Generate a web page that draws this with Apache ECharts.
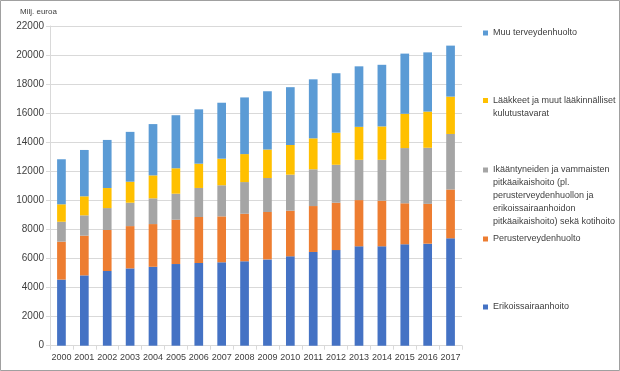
<!DOCTYPE html>
<html>
<head>
<meta charset="utf-8">
<script src="https://cdn.jsdelivr.net/npm/echarts@6/dist/echarts.min.js"></script>
<style>
html,body{margin:0;padding:0;background:#fff;}
#chart{width:620px;height:371px;}
</style>
</head>
<body>
<div id="chart"></div>
<script>
var years = ['2000','2001','2002','2003','2004','2005','2006','2007','2008','2009','2010','2011','2012','2013','2014','2015','2016','2017'];
var erikoissairaanhoito = [4550,4840,5140,5320,5430,5620,5690,5740,5810,5940,6150,6450,6580,6840,6840,6980,7020,7390];
var perusterveydenhuolto = [2610,2730,2820,2910,2940,3050,3165,3160,3270,3260,3140,3160,3260,3180,3140,2820,2740,3360];
var pitkaaikaishoito = [1370,1400,1510,1610,1770,1790,2000,2140,2180,2340,2480,2530,2610,2770,2810,3800,3860,3820];
var laakkeet = [1200,1310,1380,1445,1580,1750,1670,1830,1925,1960,2040,2130,2210,2270,2300,2360,2490,2570];
var muu = [3100,3190,3310,3430,3530,3650,3740,3850,3900,4010,3980,4060,4090,4165,4240,4140,4075,3510];
var yTicks = {min:0, max:22000, interval:2000};

var names = [
  'Erikoissairaanhoito',
  'Perusterveydenhuolto',
  'Ikääntyneiden ja vammaisten\npitkäaikaishoito (pl.\nperusterveydenhuollon ja\nerikoissairaanhoidon\npitkäaikaishoito) sekä kotihoito',
  'Lääkkeet ja muut lääkinnälliset\nkulutustavarat',
  'Muu terveydenhuolto'
];
var colors = ['#4472C4','#ED7D31','#A5A5A5','#FFC000','#5B9BD5'];
var dataSets = [erikoissairaanhoito, perusterveydenhuolto, pitkaaikaishoito, laakkeet, muu];

var FONT = "'Liberation Sans', Arial, sans-serif";
var LH = 13;
var legendTops = [300.5, 232.5, 111.5, 81, 26.5];

var chart = echarts.init(document.getElementById('chart'), null, {renderer:'canvas'});
var legends = names.map(function(n, i){
  var nLines = n.split('\n').length;
  var pre = new Array(nLines).join('\n');
  return {
    data:[n],
    left:483,
    top:legendTops[i],
    orient:'vertical',
    padding:0,
    itemWidth:5,
    itemHeight:5,
    icon:'rect',
    selectedMode:false,
    formatter:function(name){ return pre + name; },
    textStyle:{fontFamily:FONT, fontSize:9, color:'#404040', lineHeight:LH}
  };
});

var option = {
  animation:false,
  backgroundColor:'#ffffff',
  color:colors,
  textStyle:{fontFamily:FONT},
  graphic:[
    {type:'rect', shape:{x:0.5,y:0.5,width:619,height:370}, style:{fill:'none', stroke:'#a0a0a0', lineWidth:1}, silent:true},
    {type:'text', left:20, top:8, style:{text:'Milj. euroa', fontFamily:FONT, fontSize:8, fill:'#404040'}}
  ],
  legend:legends,
  grid:{left:50, right:158, top:26, bottom:25.3, containLabel:false},
  xAxis:{
    type:'category',
    data:years,
    axisLine:{lineStyle:{color:'#d9d9d9'}},
    axisTick:{show:true, length:4, alignWithLabel:false, lineStyle:{color:'#d9d9d9'}},
    axisLabel:{color:'#404040', fontSize:9, fontFamily:FONT, margin:7, interval:0}
  },
  yAxis:{
    type:'value',
    min:yTicks.min, max:yTicks.max, interval:yTicks.interval,
    axisLine:{show:true, lineStyle:{color:'#d9d9d9'}},
    axisTick:{show:true, length:4, lineStyle:{color:'#d9d9d9'}},
    axisLabel:{color:'#404040', fontSize:10, fontFamily:FONT, margin:6, formatter:function(v){ return String(v); }},
    splitLine:{lineStyle:{color:'#d9d9d9'}}
  },
  series:names.map(function(n,i){
    return {
      name:n,
      type:'bar',
      stack:'total',
      barWidth:'38%',
      data:dataSets[i],
      itemStyle:{color:colors[i]}
    };
  })
};
chart.setOption(option);
</script>
</body>
</html>
